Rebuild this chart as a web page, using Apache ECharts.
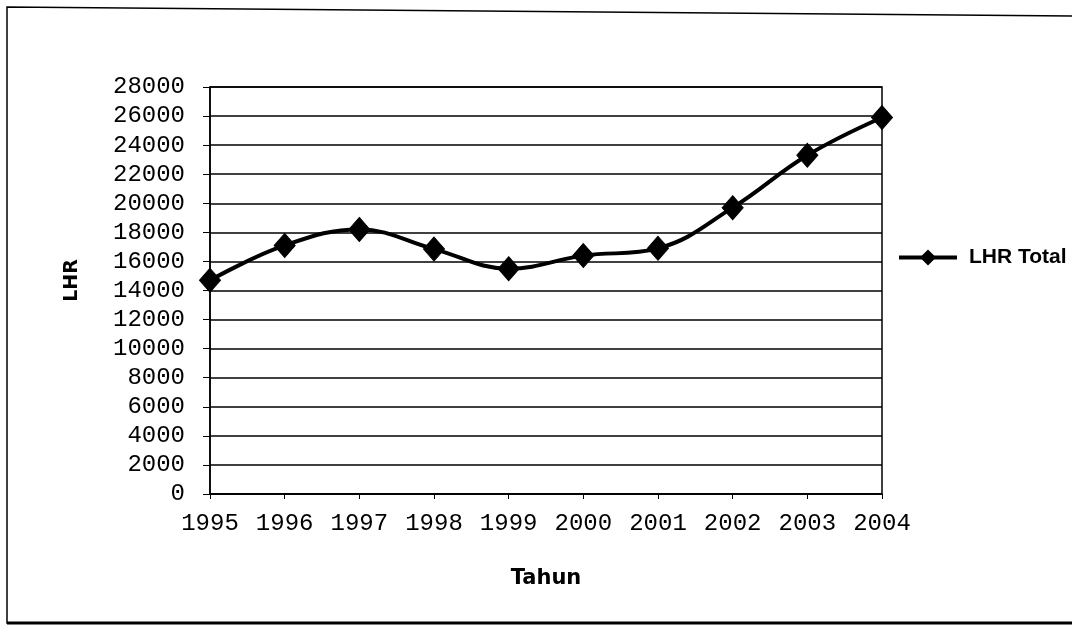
<!DOCTYPE html>
<html>
<head>
<meta charset="utf-8">
<script src="https://cdn.jsdelivr.net/npm/echarts@6/dist/echarts.min.js"></script>
<style>
html,body{margin:0;padding:0;background:#fff;}
#chart{width:1072px;height:628px;}
</style>
</head>
<body>
<div id="chart"></div>
<script>
const years = ['1995','1996','1997','1998','1999','2000','2001','2002','2003','2004'];
const lhrTotal = [14700, 17100, 18200, 16850, 15500, 16400, 16900, 19700, 23300, 25900];
const seriesName = 'LHR Total';
const xTitle = 'Tahun';
const yTitle = 'LHR';

const chart = echarts.init(document.getElementById('chart'));
chart.setOption({
  backgroundColor: '#fff',
  animation: false,
  graphic: [
    { type: 'polyline', shape: { points: [[1072,16],[7,7],[7,623],[1072,623]] },
      style: { stroke: '#000', lineWidth: 1.5, fill: null } },
    { type: 'line', shape: { x1: 7, y1: 623, x2: 1072, y2: 623 },
      style: { stroke: '#000', lineWidth: 3 } }
  ],
  grid: { left: 210, right: 190, top: 87, bottom: 134, show: true, borderColor: '#000', borderWidth: 1.5 },
  legend: {
    left: 897, top: 247, padding: 0,
    itemWidth: 58, itemHeight: 20, itemGap: 10,
    lineStyle: { width: 4, color: '#000' },
    textStyle: { fontFamily: 'Liberation Sans', fontWeight: 'bold', fontSize: 21, color: '#000', padding: [0,0,0,7] },
    data: [seriesName]
  },
  xAxis: {
    type: 'category', data: years, boundaryGap: false,
    name: xTitle, nameLocation: 'middle', nameGap: 74,
    nameTextStyle: { fontFamily: 'DejaVu Sans', fontWeight: 'bold', fontSize: 21, color: '#000' },
    axisLine: { lineStyle: { color: '#000', width: 1.5 } },
    axisTick: { show: true, length: 5, interval: 0, lineStyle: { color: '#000' } },
    axisLabel: { fontFamily: 'Liberation Mono', fontSize: 24, color: '#000', margin: 18, interval: 0 },
    splitLine: { show: false }
  },
  yAxis: {
    type: 'value', min: 0, max: 28000, interval: 2000,
    name: yTitle, nameLocation: 'middle', nameGap: 128, nameRotate: 90,
    nameTextStyle: { fontFamily: 'DejaVu Sans', fontWeight: 'bold', fontSize: 19, color: '#000', padding: [0,0,0,20] },
    axisLine: { show: true, lineStyle: { color: '#000', width: 1.5 } },
    axisTick: { show: true, length: 7, lineStyle: { color: '#000' } },
    axisLabel: { fontFamily: 'Liberation Mono', fontSize: 24, color: '#000', margin: 25,
                 formatter: function (v) { return String(v); } },
    splitLine: { show: true, lineStyle: { color: '#000', width: 1.5 } }
  },
  series: [{
    name: seriesName, type: 'line', data: lhrTotal, smooth: 0.4,
    symbol: 'diamond', symbolSize: [21, 24],
    lineStyle: { color: '#000', width: 4 },
    itemStyle: { color: '#000', borderColor: '#000' }
  }]
});
</script>
</body>
</html>
